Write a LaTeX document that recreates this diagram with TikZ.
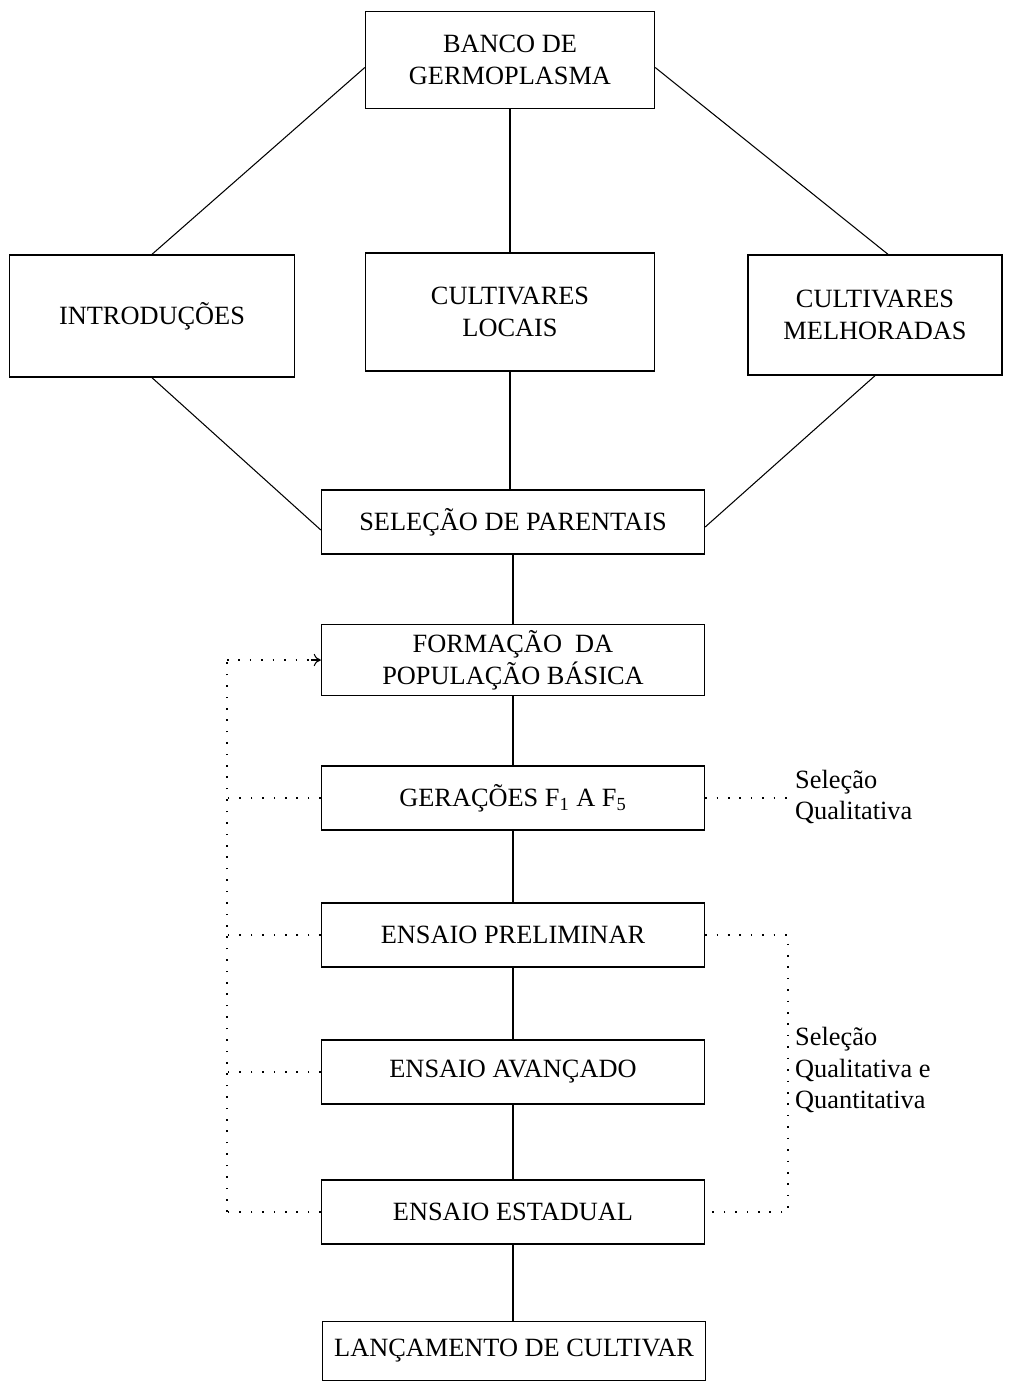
\documentclass[tikz,border=0pt]{standalone}
\usepackage{fontspec}
\setmainfont{Liberation Serif}
\usetikzlibrary{arrows,arrows.meta,positioning,calc}

\begin{document}
\begin{tikzpicture}[x=0.02cm, y=-0.02cm,
            every node/.style={font=\fontsize{15}{18}\selectfont, align=center},
            bigbox/.style={draw, line width=0.8pt, minimum width=5.78cm, minimum height=2.36cm},
            stagebox/.style={draw, line width=0.8pt, minimum width=7.66cm, minimum height=1.28cm},
            link/.style={line width=0.6pt},
            dotline/.style={line width=0.9pt, dash pattern=on 0.9pt off 5.6pt}]
            \useasboundingbox (0,0) rectangle (1018,1382);
            % top part
            \node[bigbox, minimum height=1.94cm] (Banco) at (510,60) {BANCO DE\\GERMOPLASMA};
            \node[bigbox, minimum width=5.7cm, minimum height=2.44cm] (Intro) at (152,316) {INTRODUÇÕES};
            \node[bigbox] (Locais) at (510,312) {CULTIVARES\\LOCAIS};
            \node[bigbox, minimum width=5.08cm, minimum height=2.4cm] (Melh) at (875,315) {CULTIVARES\\MELHORADAS};
            \draw[link] ([yshift=-0.15cm]Banco.west) -- (Intro.north);
            \draw[link] (Banco) -- (Locais);
            \draw[link] ([yshift=-0.15cm]Banco.east) -- ([xshift=0.26cm]Melh.north);
            % stages
            \node[stagebox] (Sel) at (513,522) {SELEÇÃO DE PARENTAIS};
            \node[stagebox] (Form) at (513,660) {FORMAÇÃO~ DA\\POPULAÇÃO BÁSICA};
            \node[stagebox] (Ger) at (513,798) {GERAÇÕES F\textsubscript{1} A F\textsubscript{5}};
            \node[stagebox] (Prel) at (513,935) {ENSAIO PRELIMINAR};
            \node[stagebox] (Avan) at (513,1072) {ENSAIO AVANÇADO};
            \node[stagebox] (Est) at (513,1212) {ENSAIO ESTADUAL};
            \node[stagebox, minimum height=1.18cm] (Lanc) at (514,1351) {LANÇAMENTO DE CULTIVAR};
            \draw[link] (Intro.south) -- ([yshift=-0.16cm]Sel.west);
            \draw[link] (Locais.south) -- (Locais.south |- Sel.north);
            \draw[link] (Melh.south) -- ([yshift=-0.1cm]Sel.east);
            \draw[link] (Sel) -- (Form);
            \draw[link] (Form) -- (Ger);
            \draw[link] (Ger) -- (Prel);
            \draw[link] (Prel) -- (Avan);
            \draw[link] (Avan) -- (Est);
            \draw[link] (Est) -- (Est |- Lanc.north);
            % selection notes
            \node[anchor=west, align=left] (QualA) at (789,797) {Seleção\\Qualitativa};
            \node[anchor=west, align=left] (QualB) at (789,1070) {Seleção\\Qualitativa e\\Quantitativa};
            % dotted feedback
            \coordinate (LTop) at (227,660);
            \coordinate (LBot) at (227,1212);
            \coordinate (RTop) at (788,935);
            \coordinate (RBot) at (788,1212);
            \draw[dotline] (LBot) -- (LTop);
            \draw[dotline] (LTop) -- (Form.west);
            \draw[line width=0.6pt, -{To[length=4pt,width=7pt]}] ([xshift=-0.2cm]Form.west) -- (Form.west);
            \draw[dotline] (Ger.west) -- (Ger.west -| LTop);
            \draw[dotline] (Prel.west) -- (Prel.west -| LTop);
            \draw[dotline] (Avan.west) -- (Avan.west -| LTop);
            \draw[dotline] (Est.west) -- (LBot);
            \draw[dotline] (Ger.east) -- (QualA.west |- Ger.east);
            \draw[dotline] (Prel.east) -- (RTop) -- (RBot) -- (Est.east);
        \end{tikzpicture}
\end{document}
